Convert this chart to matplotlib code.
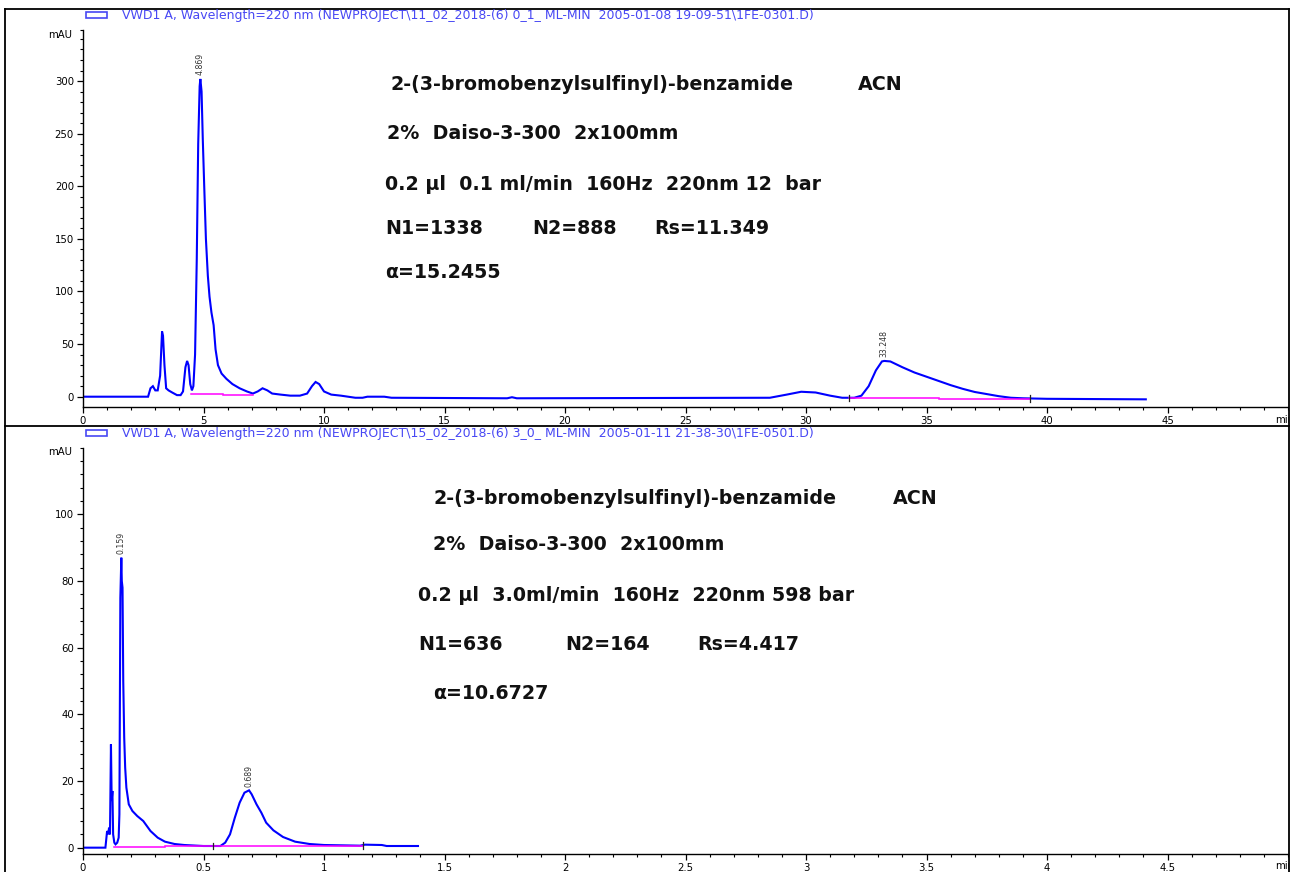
import numpy as np
import matplotlib
matplotlib.use("Agg")
import matplotlib.pyplot as plt
from matplotlib.ticker import MultipleLocator, FixedLocator, FuncFormatter
from matplotlib.lines import Line2D
from matplotlib.patches import Rectangle
from matplotlib.transforms import Bbox

# ---------------- data ----------------
# Run 1: 0.1 ml/min
run1_time = [0.0, 2.7, 2.8, 2.9, 2.95, 3.0, 3.1, 3.2, 3.28, 3.32, 3.38, 3.45, 3.55, 3.7, 3.9,
             4.05, 4.15, 4.25, 4.32, 4.38, 4.45, 4.52, 4.58, 4.65, 4.72, 4.78, 4.84, 4.869,
             4.92, 4.97, 5.03, 5.1, 5.18, 5.25, 5.33, 5.42, 5.5, 5.6, 5.75, 5.95, 6.2, 6.5,
             6.8, 7.05, 7.25, 7.45, 7.65, 7.85, 8.2, 8.6, 9.0, 9.3, 9.5, 9.65, 9.8, 10.0,
             10.3, 10.7, 11.3, 11.6, 11.8, 12.5, 12.8, 17.6, 17.8, 18.0, 28.5, 29.2, 29.8,
             30.4, 31.0, 31.5, 32.0, 32.3, 32.6, 32.9, 33.15, 33.248, 33.5, 34.0, 34.5, 35.0,
             35.5, 36.0, 36.5, 37.0, 37.5, 38.0, 38.5, 39.0, 40.0, 44.1]
run1_mau = [0.0, 0.0, 8.0, 10.0, 8.0, 6.0, 6.0, 20.0, 62.0, 58.0, 30.0, 8.0, 6.0, 4.0, 1.5,
            1.5, 5.0, 28.0, 34.0, 30.0, 12.0, 6.0, 10.0, 40.0, 130.0, 240.0, 295.0, 302.0,
            290.0, 245.0, 200.0, 150.0, 115.0, 95.0, 80.0, 68.0, 45.0, 30.0, 22.0, 17.0, 12.0, 8.0,
            5.0, 3.0, 5.0, 8.0, 6.0, 3.0, 2.0, 1.0, 1.0, 3.0, 10.0, 14.0, 12.0, 5.0,
            2.0, 1.0, -1.0, -1.0, 0.0, 0.0, -1.0, -1.5, -0.5, -1.5, -1.0, 2.0, 4.7,
            4.0, 1.0, -1.0, -1.0, 1.0, 10.0, 25.0, 33.5, 34.0, 33.5, 28.0, 23.0, 19.0,
            15.0, 11.0, 7.5, 4.5, 2.5, 0.5, -1.0, -1.5, -2.0, -2.5]
run1_peaks = [4.869, 33.248]
run1_baselines = [([4.5, 5.8], [2.3, 2.3]), ([5.8, 7.05], [1.3, 1.3]),
                  ([31.8, 35.5], [-0.9, -0.9]), ([35.5, 39.3], [-1.9, -1.9])]
run1_marks = [31.8, 39.3]

# Run 2: 3.0 ml/min
run2_time = [0.0, 0.093, 0.1, 0.105, 0.108, 0.112, 0.116, 0.119, 0.122, 0.125, 0.13, 0.135,
             0.142, 0.148, 0.151, 0.155, 0.159, 0.161, 0.164, 0.167, 0.171, 0.175, 0.18, 0.19,
             0.205, 0.225, 0.25, 0.28, 0.31, 0.34, 0.38, 0.42, 0.5, 0.57, 0.59, 0.61, 0.63,
             0.65, 0.67, 0.689, 0.7, 0.72, 0.74, 0.76, 0.79, 0.83, 0.88, 0.94, 1.0, 1.15,
             1.17, 1.24, 1.26, 1.39]
run2_mau = [0.0, 0.0, 5.0, 4.0, 6.0, 4.0, 31.0, 14.0, 17.0, 4.0, 1.5, 1.0,
            1.5, 3.0, 10.0, 75.0, 87.0, 80.0, 78.0, 50.0, 33.0, 24.0, 18.0, 13.0,
            11.0, 9.5, 8.0, 5.0, 3.0, 1.8, 1.1, 0.8, 0.5, 0.5, 1.5, 4.0, 9.0,
            13.5, 16.5, 17.2, 16.0, 13.0, 10.5, 7.5, 5.2, 3.2, 1.8, 1.1, 0.8, 0.6,
            0.9, 0.8, 0.5, 0.5]
run2_peaks = [0.159, 0.689]
run2_baselines = [([0.128, 0.34], [0.3, 0.3]), ([0.34, 1.16], [0.6, 0.6])]
run2_marks = [0.54, 1.16]

run1_header = r"VWD1 A, Wavelength=220 nm (NEWPROJECT\11_02_2018-(6) 0_1_ ML-MIN  2005-01-08 19-09-51\1FE-0301.D)"
run2_header = r"VWD1 A, Wavelength=220 nm (NEWPROJECT\15_02_2018-(6) 3_0_ ML-MIN  2005-01-11 21-38-30\1FE-0501.D)"

compound = "2-(3-bromobenzylsulfinyl)-benzamide"
solvent = "ACN"
column = "2%  Daiso-3-300  2x100mm"
run1_cond = "0.2 \u00b5l  0.1 ml/min  160Hz  220nm 12  bar"
run2_cond = "0.2 \u00b5l  3.0ml/min  160Hz  220nm 598 bar"
run1_stats = ["N1=1338", "N2=888", "Rs=11.349"]
run2_stats = ["N1=636", "N2=164", "Rs=4.417"]
run1_alpha = "\u03b1=15.2455"
run2_alpha = "\u03b1=10.6727"

# ---------------- figure ----------------
W, H = 1298, 872
fig = plt.figure(figsize=(W / 100, H / 100), dpi=100)
fig.patch.set_facecolor("white")


def fx(x):
    return x / W


def fy(y):
    return 1 - y / H


TRACE = "#0000ff"
BASE = "#ff00ff"
HEAD = "#4848f4"
TICKFONT = dict(family="DejaVu Sans", size=7.3)
BOLD = dict(family="DejaVu Sans", weight="bold", size=13.7, color="#111111")


def make_axes(top_px, bottom_px, xmax, ylim, xmajors, xmin_, ymaj, ymin_list):
    ax = fig.add_axes([fx(83), fy(bottom_px), fx(1288) - fx(83), (bottom_px - top_px) / H])
    ax.set_xlim(0, xmax)
    ax.set_ylim(*ylim)
    for s in ("top", "right"):
        ax.spines[s].set_visible(False)
    for s in ("left", "bottom"):
        ax.spines[s].set_linewidth(1.0)
        ax.spines[s].set_color("black")
    ax.xaxis.set_major_locator(FixedLocator(xmajors))
    ax.xaxis.set_minor_locator(MultipleLocator(xmin_))
    ax.yaxis.set_major_locator(MultipleLocator(ymaj))
    ax.yaxis.set_minor_locator(FixedLocator(ymin_list))
    fmt = FuncFormatter(lambda v, p: "%g" % round(v, 3))
    ax.xaxis.set_major_formatter(fmt)
    ax.yaxis.set_major_formatter(fmt)
    ax.tick_params(which="major", direction="out", length=4.0, width=0.9, pad=2.5,
                   labelsize=TICKFONT["size"], colors="black")
    ax.tick_params(which="minor", direction="out", length=2.4, width=0.8)
    for lab in ax.get_xticklabels() + ax.get_yticklabels():
        lab.set_family(TICKFONT["family"])
    ax.patch.set_alpha(0)
    return ax


def draw_run(ax, t, v, peaks, baselines, marks, dy):
    ax.plot(t, v, color=TRACE, lw=1.5, solid_joinstyle="miter")
    for bx, by in baselines:
        ax.plot(bx, by, color=BASE, lw=1.1)
    for m in marks:
        yb = np.interp(m, t, v)
        ax.plot([m, m], [yb - dy, yb + dy], color="#222222", lw=0.9)
    for p in peaks:
        yp = np.interp(p, t, v)
        ax.annotate("%.3f" % p, xy=(p, yp), xytext=(0, 2.5), textcoords="offset points",
                    rotation=90, ha="center", va="bottom", fontsize=5.6,
                    family="DejaVu Sans", color="#333333")


# top panel: run 1
ax1 = make_axes(30, 406.7, 50, (-9.5, 348.5), [0, 5, 10, 15, 20, 25, 30, 35, 40, 45], 1, 50,
                [v for v in range(10, 350, 10) if v % 50] + [348.5])
draw_run(ax1, run1_time, run1_mau, run1_peaks, run1_baselines, run1_marks, 3.0)

# bottom panel: run 2
ax2 = make_axes(448, 853.5, 5, (-1.75, 119.9), [0, 0.5, 1, 1.5, 2, 2.5, 3, 3.5, 4, 4.5], 0.1, 20,
                [v for v in range(4, 120, 4) if v % 20] + [119.9])
draw_run(ax2, run2_time, run2_mau, run2_peaks, run2_baselines, run2_marks, 1.0)

# axis unit labels
clip = Bbox.from_extents(0, 0, 1289, H)
for ytop, ymin_lbl in ((35, 420), (452, 866)):
    fig.text(fx(72), fy(ytop), "mAU", ha="right", va="center", **TICKFONT)
    t = fig.text(fx(1275), fy(ymin_lbl), "min", ha="left", va="center", **TICKFONT)
    t.set_clip_box(clip)
    t.set_clip_on(True)

# signal headers with legend swatch
for yh, txt in ((15.5, run1_header), (433.5, run2_header)):
    fig.add_artist(Rectangle((fx(86), fy(yh + 3)), fx(107) - fx(86), (6 / H),
                             transform=fig.transFigure, fill=False, edgecolor=HEAD, lw=1.2))
    fig.text(fx(122), fy(yh), txt, ha="left", va="center", color=HEAD,
             family="DejaVu Sans", size=9.0)


# method annotations
def method_block(x1, x2, x3, x5, y_rows, cond, stats, stat_x, alpha, acn_x):
    fig.text(fx(x1), fy(y_rows[0]), compound, ha="left", va="center", **BOLD)
    fig.text(fx(acn_x), fy(y_rows[0]), solvent, ha="left", va="center", **BOLD)
    fig.text(fx(x2), fy(y_rows[1]), column, ha="left", va="center", **BOLD)
    fig.text(fx(x3), fy(y_rows[2]), cond, ha="left", va="center", **BOLD)
    for s, sx in zip(stats, stat_x):
        fig.text(fx(sx), fy(y_rows[3]), s, ha="left", va="center", **BOLD)
    fig.text(fx(x5), fy(y_rows[4]), alpha, ha="left", va="center", **BOLD)


method_block(391, 387, 385, 385, [84, 133, 185, 228, 272], run1_cond, run1_stats,
             [385, 532, 654], run1_alpha, 858)
method_block(433, 433, 418, 433, [498, 545, 595, 645, 693], run2_cond, run2_stats,
             [418, 565, 697], run2_alpha, 893)

# page frame
lw = 1.3
for (xa, ya, xb, yb) in ((5, 9, 5, H), (5, 9, 1289, 9), (1289, 9, 1289, H), (5, 426, 1289, 426)):
    fig.add_artist(Line2D([fx(xa), fx(xb)], [fy(ya), fy(yb)], transform=fig.transFigure,
                          color="black", lw=lw))

fig.savefig("out.png", dpi=100)
